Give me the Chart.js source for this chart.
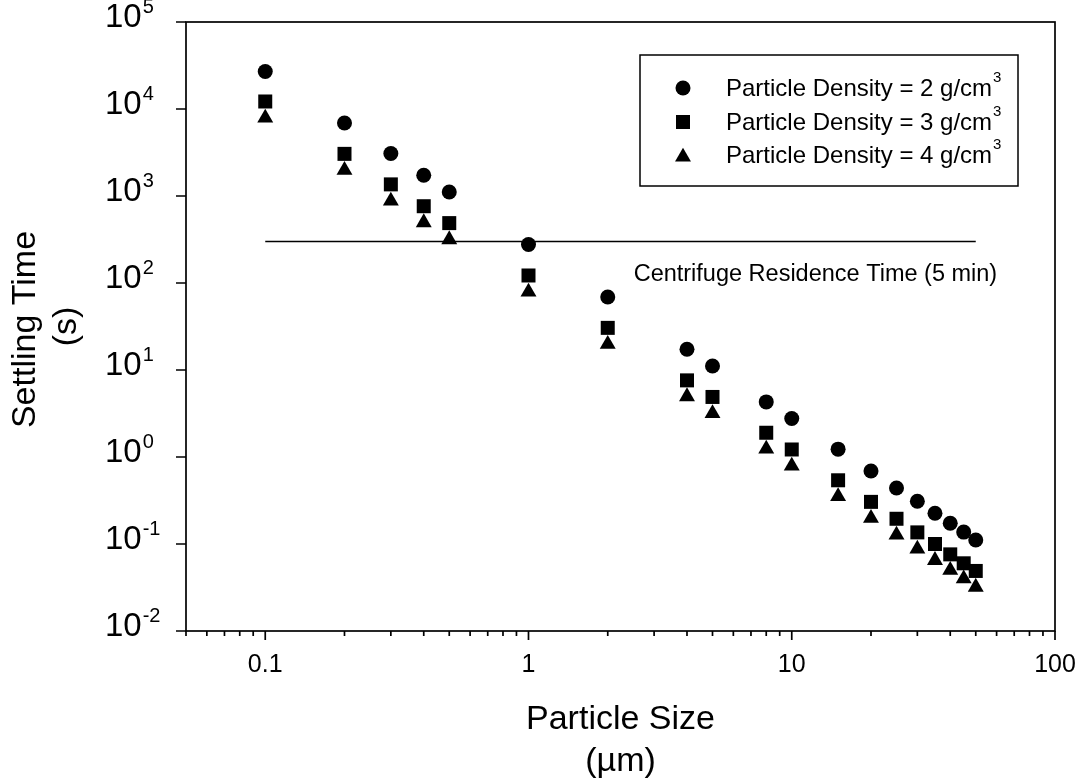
<!DOCTYPE html>
<html>
<head>
<meta charset="utf-8">
<script src="https://cdn.jsdelivr.net/npm/chart.js@4/dist/chart.umd.min.js"></script>
<style>
  html, body { margin: 0; padding: 0; background: #fff; }
  #wrap { width: 1084px; height: 781px; }
</style>
</head>
<body>
<div id="wrap"><canvas id="c" width="1084" height="781"></canvas></div>
<script>
// ---- data ----
const sizes = [0.1, 0.2, 0.3, 0.4, 0.5, 1, 2, 4, 5, 8, 10, 15, 20, 25, 30, 35, 40, 45, 50];
const density2 = [27000, 6900, 3080, 1730, 1110, 277, 69, 17.3, 11.1, 4.3, 2.77, 1.23, 0.69, 0.44, 0.31, 0.226, 0.173, 0.137, 0.111];
const density3 = [12200, 3050, 1360, 763, 488, 122, 30.5, 7.6, 4.9, 1.9, 1.22, 0.54, 0.305, 0.195, 0.136, 0.1, 0.076, 0.06, 0.049];
const density4 = [7900, 1980, 880, 495, 316, 79, 19.8, 4.95, 3.17, 1.24, 0.79, 0.352, 0.198, 0.127, 0.088, 0.065, 0.05, 0.04, 0.032];
const seriesNames = ['Particle Density = 2 g/cm', 'Particle Density = 3 g/cm', 'Particle Density = 4 g/cm'];
const residenceX = [0.1, 50];
const residenceY = [300, 300];
const residenceLabel = 'Centrifuge Residence Time (5 min)';
const xMajorTicks = [0.1, 1, 10, 100];
const xMinorTicks = [0.05, 0.06, 0.07, 0.08, 0.09, 0.2, 0.3, 0.4, 0.5, 0.6, 0.7, 0.8, 0.9,
                     2, 3, 4, 5, 6, 7, 8, 9, 20, 30, 40, 50, 60, 70, 80, 90];
const xTickLabels = ['0.1', '1', '10', '100'];
const yMajorTicks = [1e-2, 1e-1, 1e0, 1e1, 1e2, 1e3, 1e4, 1e5];
const yTickExponents = ['-2', '-1', '0', '1', '2', '3', '4', '5'];
const xTitle = ['Particle Size', '(\u00B5m)'];
const yTitle = ['Settling Time', '(s)'];

const FONT = '"Liberation Sans", Arial, Helvetica, sans-serif';

function pts(xs, ys) { return xs.map((x, i) => ({ x: x, y: ys[i] })); }

function drawMarker(ctx, style, x, y) {
  ctx.save();
  ctx.fillStyle = '#000';
  ctx.beginPath();
  if (style === 'circle') {
    ctx.arc(x, y, 7.5, 0, Math.PI * 2);
  } else if (style === 'rect') {
    ctx.rect(x - 7, y - 7, 14, 14);
  } else {
    const r = 9.2;
    ctx.moveTo(x, y - r);
    ctx.lineTo(x + r * Math.sin(2 * Math.PI / 3), y + r / 2);
    ctx.lineTo(x - r * Math.sin(2 * Math.PI / 3), y + r / 2);
    ctx.closePath();
  }
  ctx.fill();
  ctx.restore();
}

const decor = {
  id: 'decor',
  afterDraw(chart) {
    const ctx = chart.ctx;
    const xs = chart.scales.x, ys = chart.scales.y;
    const L = xs.getPixelForValue(0.05), R = xs.getPixelForValue(100);
    const T = ys.getPixelForValue(1e5), B = ys.getPixelForValue(1e-2);
    ctx.save();
    ctx.strokeStyle = '#000';
    ctx.lineWidth = 1.7;
    ctx.strokeRect(L, T, R - L, B - T);
    // x ticks
    ctx.beginPath();
    xMajorTicks.forEach(v => { const p = xs.getPixelForValue(v); ctx.moveTo(p, B); ctx.lineTo(p, B + 9); });
    xMinorTicks.forEach(v => { const p = xs.getPixelForValue(v); ctx.moveTo(p, B); ctx.lineTo(p, B + 5); });
    // y ticks
    yMajorTicks.forEach(v => { const p = ys.getPixelForValue(v); ctx.moveTo(L, p); ctx.lineTo(L - 10, p); });
    ctx.stroke();

    ctx.fillStyle = '#000';
    // x tick labels
    ctx.font = '25px ' + FONT;
    ctx.textAlign = 'center';
    ctx.textBaseline = 'middle';
    xMajorTicks.forEach((v, i) => ctx.fillText(xTickLabels[i], xs.getPixelForValue(v), 665));
    // y tick labels 10^n
    yMajorTicks.forEach((v, i) => {
      const p = ys.getPixelForValue(v);
      ctx.textAlign = 'left';
      ctx.font = '33px ' + FONT;
      ctx.fillText('10', 105, p - 4);
      const w = ctx.measureText('10').width;
      ctx.font = '20px ' + FONT;
      ctx.fillText(yTickExponents[i], 105 + w + 1, p - 15);
    });
    // axis titles
    ctx.font = '34px ' + FONT;
    ctx.textAlign = 'center';
    const cx = (L + R) / 2;
    ctx.fillText(xTitle[0], cx, 720);
    ctx.fillText(xTitle[1], cx, 762);
    const cy = (T + B) / 2;
    ctx.save();
    ctx.translate(26, cy + 3);
    ctx.rotate(-Math.PI / 2);
    ctx.fillText(yTitle[0], 0, 0);
    ctx.restore();
    ctx.save();
    ctx.translate(67, cy);
    ctx.rotate(-Math.PI / 2);
    ctx.fillText(yTitle[1], 0, 0);
    ctx.restore();

    // annotation
    ctx.font = '23.5px ' + FONT;
    ctx.textAlign = 'center';
    ctx.fillText(residenceLabel, xs.getPixelForValue(12.3), ys.getPixelForValue(125));

    // legend
    ctx.lineWidth = 1.5;
    ctx.strokeRect(640, 55, 378, 131);
    const styles = ['circle', 'rect', 'triangle'];
    const rows = [88, 122, 155];
    styles.forEach((s, i) => {
      drawMarker(ctx, s, 683, rows[i] + (s === 'triangle' ? 2 : 0));
      ctx.font = '24px ' + FONT;
      ctx.textAlign = 'left';
      ctx.fillText(seriesNames[i], 726, rows[i] + 1);
      const w = ctx.measureText(seriesNames[i]).width;
      ctx.font = '15px ' + FONT;
      ctx.fillText('3', 726 + w + 1, rows[i] - 10);
    });
    ctx.restore();
  }
};

new Chart(document.getElementById('c'), {
  type: 'scatter',
  data: {
    datasets: [
      { label: seriesNames[0], data: pts(sizes, density2), pointStyle: 'circle', pointRadius: 7.5,
        backgroundColor: '#000', borderColor: '#000', borderWidth: 0 },
      { label: seriesNames[1], data: pts(sizes, density3), pointStyle: 'rect', pointRadius: 9.9,
        backgroundColor: '#000', borderColor: '#000', borderWidth: 0 },
      { label: seriesNames[2], data: pts(sizes, density4), pointStyle: 'triangle', pointRadius: 9.2,
        backgroundColor: '#000', borderColor: '#000', borderWidth: 0 },
      { label: 'Residence', data: pts(residenceX, residenceY), showLine: true, pointRadius: 0,
        borderColor: '#000', borderWidth: 1.5, backgroundColor: '#000' }
    ]
  },
  options: {
    responsive: false,
    animation: false,
    devicePixelRatio: 1,
    layout: { padding: { left: 186, top: 22, right: 29, bottom: 150 } },
    plugins: { legend: { display: false }, tooltip: { enabled: false } },
    scales: {
      x: { type: 'logarithmic', min: 0.05, max: 100, display: false },
      y: { type: 'logarithmic', min: 0.01, max: 1e5, display: false }
    }
  },
  plugins: [decor]
});
</script>
</body>
</html>
